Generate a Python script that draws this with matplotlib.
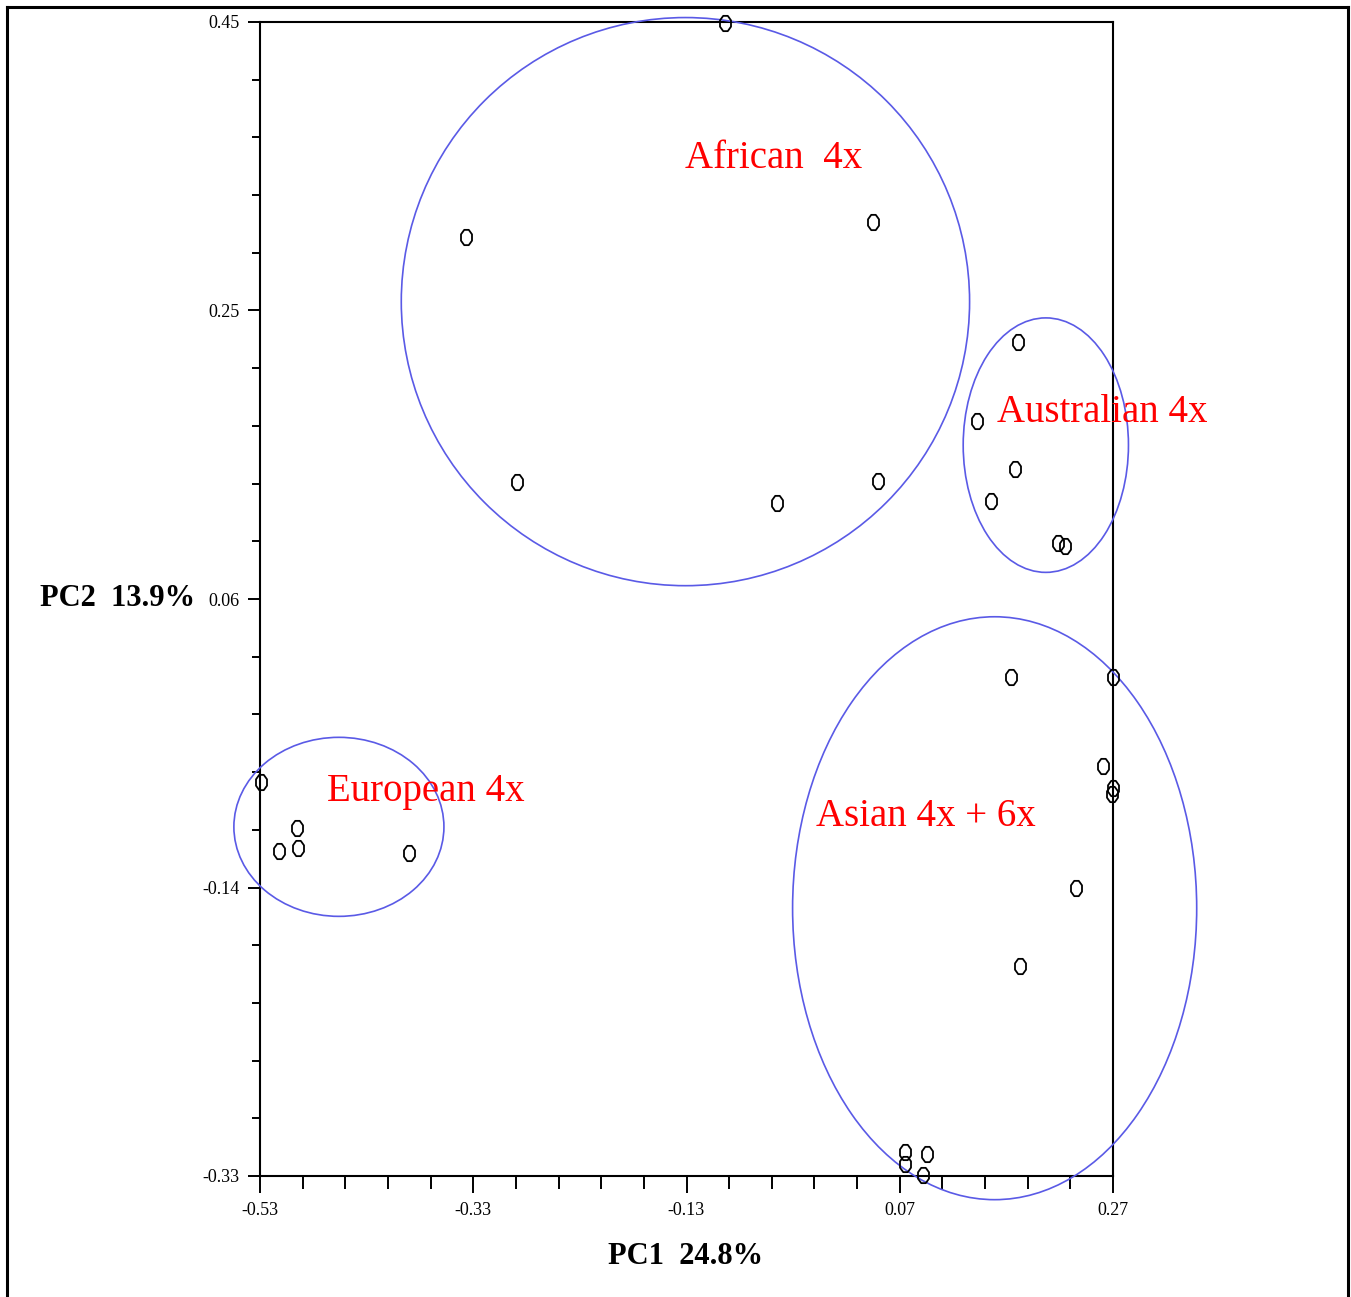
import numpy as np
import matplotlib
matplotlib.use("Agg")
import matplotlib.pyplot as plt
from matplotlib.patches import Ellipse
from matplotlib.path import Path
from matplotlib.ticker import FixedLocator, AutoMinorLocator

# PCA scores, one pair of lists per group
african_x = [-0.094, -0.337, 0.045, -0.289, -0.045, 0.050]
african_y = [0.449, 0.305, 0.315, 0.139, 0.125, 0.140]

australian_x = [0.181, 0.142, 0.178, 0.156, 0.218, 0.225]
australian_y = [0.234, 0.180, 0.148, 0.126, 0.098, 0.096]

asian_x = [0.174, 0.270, 0.261, 0.270, 0.269, 0.235, 0.183, 0.075, 0.075, 0.096, 0.092]
asian_y = [0.007, 0.007, -0.053, -0.068, -0.072, -0.135, -0.188, -0.314, -0.322, -0.315, -0.329]

european_x = [-0.529, -0.495, -0.494, -0.512, -0.390]
european_y = [-0.064, -0.095, -0.108, -0.110, -0.112]

# group ellipses: centre x, centre y, width, height
group_names = ["African  4x", "Australian 4x", "Asian 4x + 6x", "European 4x"]
ell_cx = [-0.131, 0.207, 0.159, -0.456]
ell_cy = [0.261, 0.164, -0.149, -0.094]
ell_w = [0.533, 0.155, 0.379, 0.197]
ell_h = [0.384, 0.172, 0.394, 0.121]
label_x = [-0.131, 0.161, -0.009, -0.467]
label_y = [0.358, 0.186, -0.087, -0.070]

x_ticks = [-0.53, -0.33, -0.13, 0.07, 0.27]
x_ticklabels = ["-0.53", "-0.33", "-0.13", "0.07", "0.27"]
y_ticks = [0.45, 0.255, 0.06, -0.135, -0.33]
y_ticklabels = ["0.45", "0.25", "0.06", "-0.14", "-0.33"]

W, H = 1351, 1297
fig = plt.figure(figsize=(W / 100, H / 100), dpi=100)
plt.rcParams['font.family'] = ['Liberation Serif', 'DejaVu Serif']

# outer frame (top, left, right only)
fig.add_artist(plt.Line2D([7 / W, 7 / W], [0, 1 - 7 / H], color='black', lw=2.2))
fig.add_artist(plt.Line2D([7 / W, 1348 / W], [1 - 7 / H, 1 - 7 / H], color='black', lw=2.2))
fig.add_artist(plt.Line2D([1348 / W, 1348 / W], [0, 1 - 7 / H], color='black', lw=2.2))

ax = fig.add_axes([260 / W, 1 - 1176 / H, (1113 - 260) / W, (1176 - 22) / H])
ax.set_xlim(-0.53, 0.27)
ax.set_ylim(-0.33, 0.45)

# stretched octagon marker
ang = np.deg2rad(np.arange(22.5, 360, 45))
verts = np.column_stack([0.36 * np.cos(ang) / np.cos(np.pi / 8),
                         0.5 * np.sin(ang) / np.cos(np.pi / 8)])
verts = np.vstack([verts, verts[:1]])
octo = Path(verts, closed=True)

for xs, ys in [(african_x, african_y), (australian_x, australian_y),
               (asian_x, asian_y), (european_x, european_y)]:
    ax.plot(xs, ys, linestyle='none', marker=octo, markersize=11,
            markerfacecolor='none', markeredgecolor='black', markeredgewidth=1.3,
            clip_on=False, zorder=4)

for i in range(len(group_names)):
    ax.add_patch(Ellipse((ell_cx[i], ell_cy[i]), ell_w[i], ell_h[i], fill=False,
                         edgecolor='#5a5ae6', lw=1.2, clip_on=False, zorder=3))
    ax.text(label_x[i], label_y[i], group_names[i], color='red', fontsize=28,
            ha='left', va='center', zorder=5, clip_on=False)

for s in ax.spines.values():
    s.set_linewidth(1.5)

ax.xaxis.set_major_locator(FixedLocator(x_ticks))
ax.set_xticklabels(x_ticklabels)
ax.yaxis.set_major_locator(FixedLocator(y_ticks))
ax.set_yticklabels(y_ticklabels)
ax.xaxis.set_minor_locator(AutoMinorLocator(5))
ax.yaxis.set_minor_locator(AutoMinorLocator(5))
ax.tick_params(axis='x', which='major', direction='out', length=12, width=1.4, pad=7, labelsize=13)
ax.tick_params(axis='x', which='minor', direction='out', length=9, width=1.4)
ax.tick_params(axis='y', which='major', direction='out', length=9, width=1.4, pad=6, labelsize=13)
ax.tick_params(axis='y', which='minor', direction='out', length=6, width=1.4)

fig.text(686 / W, 1 - 1257 / H, "PC1  24.8%", fontsize=22, fontweight='bold',
         ha='center', va='center')
fig.text(40 / W, 1 - 598 / H, "PC2  13.9%", fontsize=22, fontweight='bold',
         ha='left', va='center')

fig.savefig("out.png", dpi=100)
